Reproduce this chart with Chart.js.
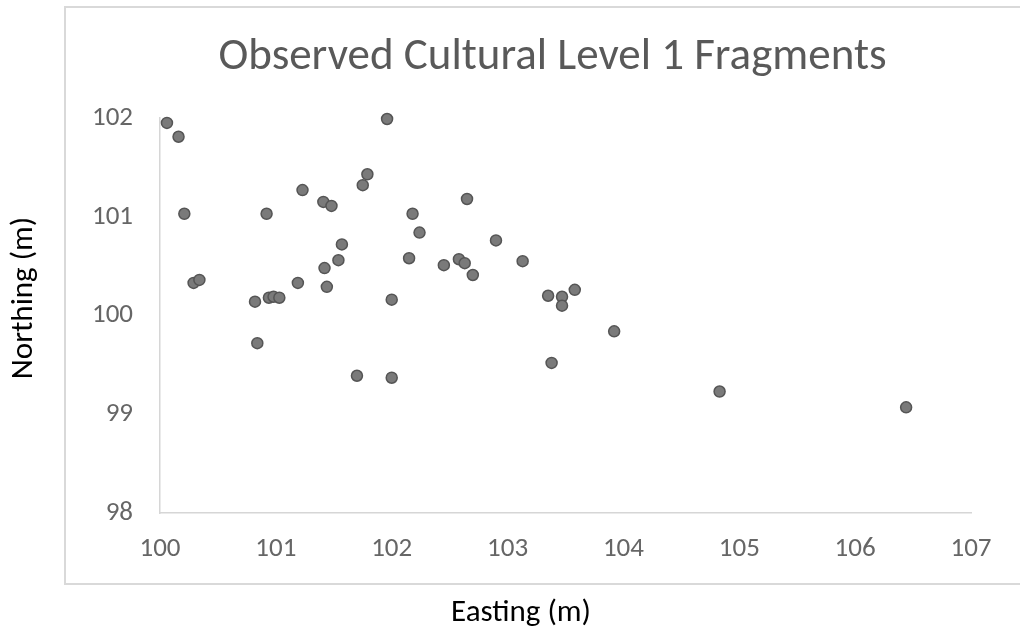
<!DOCTYPE html>
<html>
<head>
<meta charset="utf-8">
<script src="https://cdn.jsdelivr.net/npm/chart.js@4.4.1/dist/chart.umd.min.js"></script>
<style>
  html, body { margin: 0; padding: 0; background: #ffffff; }
  canvas { display: block; }
</style>
</head>
<body>
<canvas id="chart" width="1020" height="634"></canvas>
<script>
// Fragment positions (metres, site grid)
const eastings = [
  100.06, 100.16, 100.21, 100.92, 101.23, 101.41, 101.48, 101.75, 101.79, 101.96,
  102.18, 102.24, 102.65, 102.90, 101.57, 101.54, 101.42, 101.19, 101.44, 100.29,
  100.34, 100.82, 100.94, 100.98, 101.03, 102.00, 102.15, 102.45, 102.58, 102.63,
  102.70, 103.13, 103.35, 103.47, 103.47, 103.58, 103.92, 103.38, 100.84, 101.70,
  102.00, 104.83, 106.44
];
const northings = [
  101.95, 101.81, 101.03, 101.03, 101.27, 101.15, 101.11, 101.32, 101.43, 101.99,
  101.03, 100.84, 101.18, 100.76, 100.72, 100.56, 100.48, 100.33, 100.29, 100.33,
  100.36, 100.14, 100.18, 100.19, 100.18, 100.16, 100.58, 100.51, 100.57, 100.53,
  100.41, 100.55, 100.20, 100.19, 100.10, 100.26, 99.84, 99.52, 99.72, 99.39,
  99.37, 99.23, 99.07
];
const eastingRange = [100, 107];
const northingRange = [98, 102];

const chartTitle = 'Observed Cultural Level 1 Fragments';
const xTitle = 'Easting (m)';
const yTitle = 'Northing (m)';

const FONT = 'Carlito, Lato, "Open Sans", sans-serif';

// Outer frame, heading and axis captions
const decorations = {
  id: 'decorations',
  beforeDraw(chart) {
    const { ctx, chartArea: a } = chart;
    ctx.save();
    ctx.strokeStyle = '#d9d9d9';
    ctx.lineWidth = 2;
    const fx = a.left - 95, fy = a.top - 111;
    const fw = 975, fh = (a.bottom - a.top) + 182;
    ctx.strokeRect(fx, fy, fw, fh);

    ctx.fillStyle = '#595959';
    ctx.font = '45px ' + FONT;
    ctx.textAlign = 'center';
    ctx.textBaseline = 'middle';
    ctx.fillText(chartTitle, fx + fw / 2, 58);

    ctx.fillStyle = '#000000';
    ctx.font = '31px ' + FONT;
    ctx.fillText(xTitle, 521, 613);

    ctx.translate(24, 298);
    ctx.rotate(-Math.PI / 2);
    ctx.fillText(yTitle, 0, 0);
    ctx.restore();
  }
};

new Chart(document.getElementById('chart'), {
  type: 'scatter',
  data: {
    datasets: [{
      label: 'Fragments',
      data: eastings.map((x, i) => ({ x: x, y: northings[i] })),
      clip: false,
      pointRadius: 5.5,
      pointHoverRadius: 5.5,
      pointBackgroundColor: '#7a7a7a',
      pointBorderColor: '#555555',
      pointBorderWidth: 1.5
    }]
  },
  options: {
    responsive: false,
    animation: false,
    events: [],
    layout: { padding: { left: 0, right: 49, top: 118, bottom: 0 } },
    plugins: {
      legend: { display: false },
      title: { display: false },
      tooltip: { enabled: false }
    },
    scales: {
      x: {
        type: 'linear',
        min: eastingRange[0],
        max: eastingRange[1],
        grid: { display: false, drawTicks: false },
        border: { display: true, color: '#d6d6d6', width: 1.5 },
        ticks: {
          stepSize: 1,
          padding: 20,
          color: '#666666',
          font: { family: FONT, size: 27 }
        },
        afterFit(scale) { scale.height = 121; }
      },
      y: {
        type: 'linear',
        min: northingRange[0],
        max: northingRange[1],
        grid: { display: false, drawTicks: false },
        border: { display: true, color: '#d6d6d6', width: 1.5 },
        ticks: {
          stepSize: 1,
          padding: 27,
          color: '#666666',
          font: { family: FONT, size: 27 }
        },
        afterFit(scale) { scale.width = 160; }
      }
    }
  },
  plugins: [decorations]
});
</script>
</body>
</html>
